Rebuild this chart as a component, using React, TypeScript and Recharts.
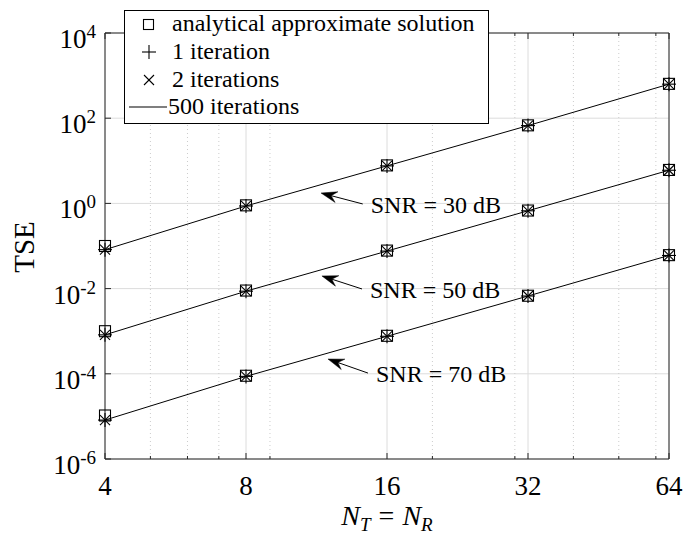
import React from 'react';
import { LineChart, Line, XAxis, YAxis, CartesianGrid, ReferenceLine } from 'recharts';

const nAntennas = [4, 8, 16, 32, 64];
const xTickValues = [4, 8, 16, 32, 64];
const xMinorValues = [5, 6, 7, 9, 20, 30, 40, 50, 60];
const yTickValues = [1e-6, 1e-4, 1e-2, 1, 1e2, 1e4];
const yExponents = ['-6', '-4', '-2', '0', '2', '4'];

// analytical approximate solution (squares)
const approx30 = [0.1, 0.9, 7.8, 68, 640];
const approx50 = [0.001, 0.009, 0.078, 0.68, 6.1];
const approx70 = [1.05e-5, 9e-5, 7.8e-4, 6.8e-3, 0.061];
// 1 iteration (plus)
const iter1_30 = [0.082, 0.87, 7.6, 67, 630];
const iter1_50 = [0.00082, 0.0087, 0.076, 0.67, 6.0];
const iter1_70 = [8.2e-6, 8.7e-5, 7.6e-4, 6.7e-3, 0.06];
// 2 iterations (cross)
const iter2_30 = [0.082, 0.87, 7.6, 67, 630];
const iter2_50 = [0.00082, 0.0087, 0.076, 0.67, 6.0];
const iter2_70 = [8.2e-6, 8.7e-5, 7.6e-4, 6.7e-3, 0.06];
// 500 iterations (solid line)
const iter500_30 = [0.082, 0.87, 7.6, 67, 630];
const iter500_50 = [0.00082, 0.0087, 0.076, 0.67, 6.0];
const iter500_70 = [8.2e-6, 8.7e-5, 7.6e-4, 6.7e-3, 0.06];

const legendLabels = ['analytical approximate solution', '1 iteration', '2 iterations', '500 iterations'];

const snrNotes = [
  { text: 'SNR = 30 dB', tail: { x: 14.2, y: 0.97 }, tip: { x: 11.57, y: 1.75 } },
  { text: 'SNR = 50 dB', tail: { x: 14.15, y: 0.0098 }, tip: { x: 11.62, y: 0.0198 } },
  { text: 'SNR = 70 dB', tail: { x: 14.57, y: 1.04e-4 }, tip: { x: 11.97, y: 2.22e-4 } },
];

const rows = nAntennas.map((n, i) => ({
  n,
  a30: approx30[i], p30: iter1_30[i], x30: iter2_30[i], l30: iter500_30[i],
  a50: approx50[i], p50: iter1_50[i], x50: iter2_50[i], l50: iter500_50[i],
  a70: approx70[i], p70: iter1_70[i], x70: iter2_70[i], l70: iter500_70[i],
}));

const SERIF = '"Liberation Serif", "Times New Roman", serif';
const INK = '#000';
const AXIS = '#262626';

const square = (p: any) => (
  <rect key={`s${p.index}`} x={p.cx - 5.5} y={p.cy - 5.5} width={11} height={11} fill="none" stroke={INK} strokeWidth={1.1} />
);
const plus = (p: any) => (
  <g key={`p${p.index}`} stroke={INK} strokeWidth={1.1}>
    <line x1={p.cx - 7} y1={p.cy} x2={p.cx + 7} y2={p.cy} />
    <line x1={p.cx} y1={p.cy - 7} x2={p.cx} y2={p.cy + 7} />
  </g>
);
const cross = (p: any) => (
  <g key={`x${p.index}`} stroke={INK} strokeWidth={1.1}>
    <line x1={p.cx - 5} y1={p.cy - 5} x2={p.cx + 5} y2={p.cy + 5} />
    <line x1={p.cx - 5} y1={p.cy + 5} x2={p.cx + 5} y2={p.cy - 5} />
  </g>
);

const BottomTick = ({ x, y, payload }: any) => (
  <g>
    <line x1={x} y1={y} x2={x} y2={y - 6} stroke={AXIS} />
    <text x={x} y={y + 36} textAnchor="middle" fontSize={27} fontFamily={SERIF} fill={INK}>
      {payload.value}
    </text>
  </g>
);
const TopTick = ({ x, y }: any) => <line x1={x} y1={y} x2={x} y2={y + 6} stroke={AXIS} />;
const RightTick = ({ x, y }: any) => <line x1={x} y1={y} x2={x - 6} y2={y} stroke={AXIS} />;
const LeftTick = ({ x, y, index }: any) => (
  <g>
    <line x1={x} y1={y} x2={x + 6} y2={y} stroke={AXIS} />
    <text x={x - 9} y={y + 15} textAnchor="end" fontSize={27} fontFamily={SERIF} fill={INK}>
      <tspan>10</tspan>
      <tspan fontSize={19} dy={-10}>{yExponents[index]}</tspan>
    </text>
  </g>
);

const XLabel = ({ viewBox }: any) => {
  const cx = viewBox.x + viewBox.width / 2;
  const base = viewBox.y + 66;
  return (
    <text x={cx} y={base} textAnchor="middle" fontSize={28} fontFamily={SERIF} fill={INK}>
      <tspan fontStyle="italic">N</tspan>
      <tspan fontStyle="italic" fontSize={19} dy={6}>T</tspan>
      <tspan dy={-6} dx={8}>=</tspan>
      <tspan fontStyle="italic" dx={8}>N</tspan>
      <tspan fontStyle="italic" fontSize={19} dy={6}>R</tspan>
    </text>
  );
};

const YLabel = () => (
  <text x={24} y={247} transform="rotate(-90 24 247)" textAnchor="middle" dominantBaseline="central" fontSize={29} fontFamily={SERIF} fill={INK}>
    TSE
  </text>
);

const MinorGridLine = (p: any) => {
  const top = Math.min(p.y1, p.y2);
  const bottom = Math.max(p.y1, p.y2);
  return (
    <g>
      <line x1={p.x1} y1={top} x2={p.x1} y2={bottom} stroke="#cccccc" strokeDasharray="1 3" />
      <line x1={p.x1} y1={top} x2={p.x1} y2={top + 3} stroke={AXIS} />
      <line x1={p.x1} y1={bottom} x2={p.x1} y2={bottom - 3} stroke={AXIS} />
    </g>
  );
};

const noteArrow = (text: string) => (p: any) => {
  const dx = p.x2 - p.x1;
  const dy = p.y2 - p.y1;
  const len = Math.hypot(dx, dy);
  const ux = dx / len;
  const uy = dy / len;
  const L = 16;
  const W = 5.5;
  const bx = p.x2 - ux * L;
  const by = p.y2 - uy * L;
  const nx = p.x2 - ux * L * 0.65;
  const ny = p.y2 - uy * L * 0.65;
  const head = `${p.x2},${p.y2} ${bx - uy * W},${by + ux * W} ${nx},${ny} ${bx + uy * W},${by - ux * W}`;
  return (
    <g>
      <line x1={p.x1} y1={p.y1} x2={nx} y2={ny} stroke={INK} strokeWidth={1} />
      <polygon points={head} fill={INK} stroke={INK} strokeWidth={0.5} />
      <text x={p.x1 + 8} y={p.y1 + 9} fontSize={24} fontFamily={SERIF} fill={INK}>
        {text}
      </text>
    </g>
  );
};

const LegendBox = () => {
  // row centres relative to the legend box
  const rowY = [14, 42, 70, 97];
  return (
    <svg width={365} height={114} style={{ position: 'absolute', left: 124, top: 10, display: 'block' }}>
      <rect x={0.5} y={0.5} width={364} height={113} fill="#fff" stroke={INK} />
      <rect x={19.5} y={rowY[0] - 4.5} width={10} height={10} fill="none" stroke={INK} strokeWidth={1.1} />
      <g stroke={INK} strokeWidth={1.1}>
        <line x1={18} y1={rowY[1]} x2={32} y2={rowY[1]} />
        <line x1={25} y1={rowY[1] - 7} x2={25} y2={rowY[1] + 7} />
        <line x1={20} y1={rowY[2] - 5} x2={30} y2={rowY[2] + 5} />
        <line x1={20} y1={rowY[2] + 5} x2={30} y2={rowY[2] - 5} />
        <line x1={5} y1={rowY[3]} x2={43} y2={rowY[3]} />
      </g>
      {legendLabels.map((label, i) => (
        <text key={label} x={i === 3 ? 44 : 48} y={rowY[i] + 7} fontSize={24} fontFamily={SERIF} fill={INK}>
          {label}
        </text>
      ))}
    </svg>
  );
};

const snrKeys = ['30', '50', '70'];

export default function App() {
  return (
    <div style={{ position: 'absolute', left: 0, top: 0, width: 697, height: 534, background: '#fff' }}>
      <LineChart width={697} height={534} data={rows} margin={{ top: 0, right: 0, bottom: 0, left: 0 }}>
        <XAxis
          xAxisId="b"
          dataKey="n"
          type="number"
          scale="log"
          domain={[4, 64]}
          ticks={xTickValues}
          height={75}
          tickSize={0}
          tickMargin={0}
          tickLine={false}
          axisLine={{ stroke: AXIS }}
          tick={<BottomTick />}
          label={<XLabel />}
        />
        <XAxis
          xAxisId="t"
          orientation="top"
          dataKey="n"
          type="number"
          scale="log"
          domain={[4, 64]}
          ticks={xTickValues}
          height={33}
          tickSize={0}
          tickMargin={0}
          tickLine={false}
          axisLine={{ stroke: AXIS }}
          tick={<TopTick />}
        />
        <YAxis
          yAxisId="l"
          type="number"
          scale="log"
          domain={[1e-6, 1e4]}
          ticks={yTickValues}
          width={105}
          tickSize={0}
          tickMargin={0}
          tickLine={false}
          axisLine={{ stroke: AXIS }}
          tick={<LeftTick />}
          label={<YLabel />}
        />
        <YAxis
          yAxisId="r"
          orientation="right"
          type="number"
          scale="log"
          domain={[1e-6, 1e4]}
          ticks={yTickValues}
          width={28}
          tickSize={0}
          tickMargin={0}
          tickLine={false}
          axisLine={{ stroke: AXIS }}
          tick={<RightTick />}
        />
        <CartesianGrid xAxisId="b" yAxisId="l" stroke="#dcdcdc" />
        {xMinorValues.map((v) => (
          <ReferenceLine key={`m${v}`} xAxisId="b" yAxisId="l" x={v} shape={MinorGridLine} />
        ))}
        {snrKeys.map((k) => [
          <Line key={`l${k}`} xAxisId="b" yAxisId="l" dataKey={`l${k}`} stroke={INK} strokeWidth={1} dot={false} activeDot={false} isAnimationActive={false} />,
          <Line key={`a${k}`} xAxisId="b" yAxisId="l" dataKey={`a${k}`} stroke="none" dot={square} activeDot={false} isAnimationActive={false} />,
          <Line key={`p${k}`} xAxisId="b" yAxisId="l" dataKey={`p${k}`} stroke="none" dot={plus} activeDot={false} isAnimationActive={false} />,
          <Line key={`x${k}`} xAxisId="b" yAxisId="l" dataKey={`x${k}`} stroke="none" dot={cross} activeDot={false} isAnimationActive={false} />,
        ])}
        {snrNotes.map((note) => (
          <ReferenceLine
            key={note.text}
            xAxisId="b"
            yAxisId="l"
            segment={[note.tail, note.tip]}
            shape={noteArrow(note.text)}
          />
        ))}
      </LineChart>
      <LegendBox />
    </div>
  );
}
